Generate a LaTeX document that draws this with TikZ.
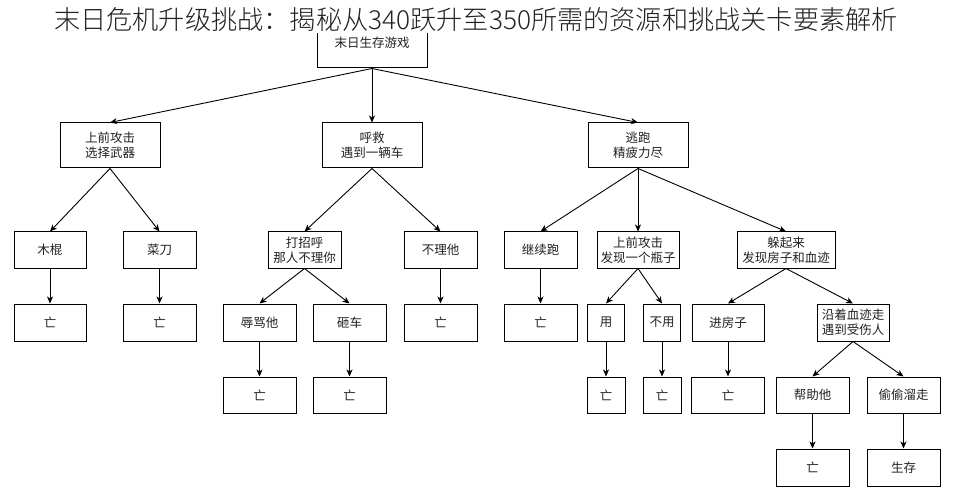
\documentclass[tikz,border=0pt]{standalone}
\usepackage{fontspec}
\setmainfont{Noto Sans CJK SC}
\newfontfamily\titlefont{Noto Sans CJK SC Light}
\usetikzlibrary{arrows.meta}
\definecolor{txt}{HTML}{222222}
\tikzset{
  box/.style={draw=black, line width=1pt, fill=white, rectangle, inner sep=0pt, align=center,
    text=txt, font=\fontsize{12.5}{15}\selectfont},
  link/.style={draw=black, line width=0.9pt, -{Stealth[length=7pt,width=6pt,inset=2pt]}},
  titletext/.style={fill=white, inner sep=1pt, text=txt, font=\titlefont\fontsize{26.2}{28}\selectfont}
}
\begin{document}
\begin{tikzpicture}[x=1pt,y=-1pt]
\useasboundingbox (0,0) rectangle (954,500);
\fill[white] (0,0) rectangle (954,500);
% top
\node[box, minimum width=110pt, minimum height=50pt] (top) at (372,43) {末日生存游戏};
% level 1
\node[box, minimum width=100pt, minimum height=45pt] (a1) at (110,145.5) {上前攻击\\选择武器};
\node[box, minimum width=100pt, minimum height=45pt] (a2) at (372,145.5) {呼救\\遇到一辆车};
\node[box, minimum width=100pt, minimum height=45pt] (a3) at (638,145.5) {逃跑\\精疲力尽};
% level 2
\node[box, minimum width=72pt, minimum height=36pt] (b1) at (50,250) {木棍};
\node[box, minimum width=73pt, minimum height=36pt] (b2) at (159.5,250) {菜刀};
\node[box, minimum width=73pt, minimum height=36pt] (b3) at (304.5,250) {打招呼\\那人不理你};
\node[box, minimum width=73pt, minimum height=36pt] (b4) at (440.5,250) {不理他};
\node[box, minimum width=73pt, minimum height=36pt] (b5) at (540.5,250) {继续跑};
\node[box, minimum width=82pt, minimum height=36pt] (b6) at (638,250) {上前攻击\\发现一个瓶子};
\node[box, minimum width=98pt, minimum height=36pt] (b7) at (786,250) {躲起来\\发现房子和血迹};
% level 3
\node[box, minimum width=72pt, minimum height=37pt] (c1) at (50,322.5) {亡};
\node[box, minimum width=73pt, minimum height=37pt] (c2) at (159.5,322.5) {亡};
\node[box, minimum width=73pt, minimum height=37pt] (c3) at (259.5,322.5) {辱骂他};
\node[box, minimum width=73pt, minimum height=37pt] (c4) at (349.5,322.5) {砸车};
\node[box, minimum width=73pt, minimum height=37pt] (c5) at (440.5,322.5) {亡};
\node[box, minimum width=73pt, minimum height=37pt] (c6) at (540.5,322.5) {亡};
\node[box, minimum width=37pt, minimum height=37pt] (c7) at (606,322.5) {用};
\node[box, minimum width=37pt, minimum height=37pt] (c8) at (662,322.5) {不用};
\node[box, minimum width=72pt, minimum height=37pt] (c9) at (728,322.5) {进房子};
\node[box, minimum width=72pt, minimum height=37pt] (c10) at (853,322.5) {沿着血迹走\\遇到受伤人};
% level 4
\node[box, minimum width=73pt, minimum height=36pt] (d1) at (259.5,395) {亡};
\node[box, minimum width=73pt, minimum height=36pt] (d2) at (349.5,395) {亡};
\node[box, minimum width=38pt, minimum height=36pt] (d3) at (606,395) {亡};
\node[box, minimum width=38pt, minimum height=36pt] (d4) at (662,395) {亡};
\node[box, minimum width=73pt, minimum height=36pt] (d5) at (728,395) {亡};
\node[box, minimum width=73pt, minimum height=36pt] (d6) at (812.5,395) {帮助他};
\node[box, minimum width=73pt, minimum height=36pt] (d7) at (903.5,395) {偷偷溜走};
% level 5
\node[box, minimum width=73pt, minimum height=37pt] (e1) at (812.5,467.5) {亡};
\node[box, minimum width=73pt, minimum height=37pt] (e2) at (903.5,467.5) {生存};
% edges
\foreach \p/\c in {top/a1,top/a2,top/a3,a1/b1,a1/b2,a2/b3,a2/b4,a3/b5,a3/b6,a3/b7,
  b1/c1,b2/c2,b3/c3,b3/c4,b4/c5,b5/c6,b6/c7,b6/c8,b7/c9,b7/c10,
  c3/d1,c4/d2,c7/d3,c8/d4,c9/d5,c10/d6,c10/d7,d6/e1,d7/e2}
  \draw[link] (\p.south) -- (\c.north);
% title
\node[titletext] (title) at (476,20) {末日危机升级挑战：揭秘从340跃升至350所需的资源和挑战关卡要素解析};
\end{tikzpicture}
\end{document}
